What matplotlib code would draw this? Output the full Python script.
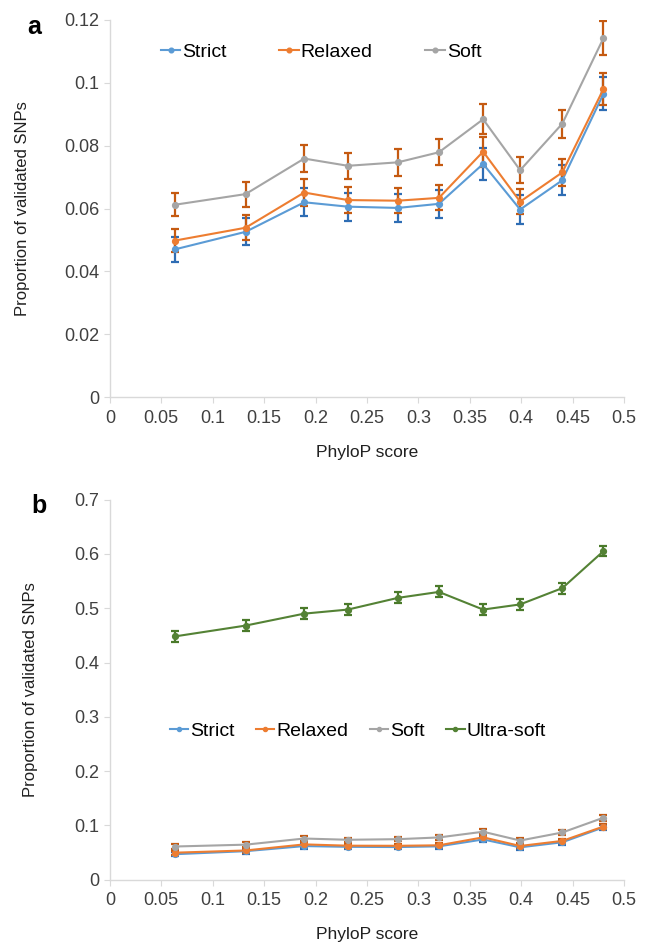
import numpy as np
import matplotlib
matplotlib.use("Agg")
import matplotlib.pyplot as plt
from matplotlib.ticker import FuncFormatter, MultipleLocator

plt.rcParams["font.family"] = ["Liberation Sans", "DejaVu Sans"]

# PhyloP score bins (x) and proportions of validated SNPs
phylop = [0.063, 0.132, 0.189, 0.2315, 0.280, 0.320, 0.363, 0.399, 0.440, 0.480]

strict = [0.0470, 0.0526, 0.0620, 0.0606, 0.0602, 0.0615, 0.0742, 0.0597, 0.0690, 0.0965]
strict_err = [0.0040, 0.0043, 0.0045, 0.0045, 0.0045, 0.0045, 0.0050, 0.0045, 0.0047, 0.0052]

relaxed = [0.0498, 0.0539, 0.0651, 0.0627, 0.0625, 0.0634, 0.0781, 0.0622, 0.0715, 0.0980]
relaxed_err = [0.0036, 0.0040, 0.0042, 0.0040, 0.0040, 0.0040, 0.0048, 0.0040, 0.0042, 0.0050]

soft = [0.0612, 0.0646, 0.0759, 0.0736, 0.0747, 0.0779, 0.0884, 0.0722, 0.0870, 0.1142]
soft_err = [0.0037, 0.0040, 0.0043, 0.0041, 0.0042, 0.0042, 0.0048, 0.0042, 0.0045, 0.0055]

ultra_soft = [0.448, 0.468, 0.490, 0.4975, 0.519, 0.530, 0.4975, 0.507, 0.537, 0.605]
ultra_soft_err = [0.010, 0.010, 0.010, 0.010, 0.010, 0.010, 0.010, 0.010, 0.010, 0.009]

series = [
    ("Strict", strict, strict_err, "#5B9BD5", "#2E6DB4"),
    ("Relaxed", relaxed, relaxed_err, "#ED7D31", "#C55A11"),
    ("Soft", soft, soft_err, "#A5A5A5", "#C55A11"),
]
ultra = ("Ultra-soft", ultra_soft, ultra_soft_err, "#548235", "#4A7A2A")

GRID = "#D9D9D9"
TXT = "#404040"


def fmt(v, _pos):
    return "%g" % round(v, 4)


def style_axes(ax, ymax, ystep, ylab_x):
    ax.set_xlim(0, 0.5)
    ax.set_ylim(0, ymax)
    ax.xaxis.set_major_locator(MultipleLocator(0.05))
    ax.yaxis.set_major_locator(MultipleLocator(ystep))
    ax.xaxis.set_major_formatter(FuncFormatter(fmt))
    ax.yaxis.set_major_formatter(FuncFormatter(fmt))
    for side in ("top", "right"):
        ax.spines[side].set_visible(False)
    for side in ("left", "bottom"):
        ax.spines[side].set_color(GRID)
        ax.spines[side].set_linewidth(1.0)
    ax.tick_params(direction="out", length=4, color=GRID, labelcolor=TXT,
                   labelsize=13)
    ax.tick_params(axis="x", pad=5)
    ax.set_xlabel("PhyloP score", fontsize=12.5, color="#202020", labelpad=13)
    ax.set_ylabel("Proportion of validated SNPs", fontsize=12, color="#202020")
    ax.yaxis.set_label_coords(ylab_x, 0.5)


def draw(ax, name, y, err, color, ecolor, ms=4.2):
    ax.errorbar(phylop, y, yerr=err, fmt="none", ecolor=ecolor, elinewidth=1.6,
                capsize=3, capthick=1.6, zorder=2)
    ax.plot(phylop, y, color=color, lw=1.5, marker="o", ms=ms, label=name,
            zorder=3)


fig = plt.figure(figsize=(6.5, 9.48), dpi=100)
ax_a = fig.add_axes([0.169, 0.581, 0.791, 0.398])
ax_b = fig.add_axes([0.169, 0.072, 0.791, 0.401])

# panel a
for name, y, err, c, ec in series:
    draw(ax_a, name, y, err, c, ec)
style_axes(ax_a, 0.12, 0.02, -0.155)
ax_a.legend(loc="center", bbox_to_anchor=(0.411, 0.915), ncol=3, frameon=False,
            fontsize=14, handlelength=1.0, handletextpad=0.1, columnspacing=2.7,
            markerscale=0.8)
fig.text(0.042, 0.972, "a", fontsize=18, fontweight="bold", va="center")

# panel b
for name, y, err, c, ec in series + [ultra]:
    draw(ax_b, name, y, err, c, ec, ms=4.2)
style_axes(ax_b, 0.7, 0.1, -0.14)
ax_b.legend(loc="center", bbox_to_anchor=(0.482, 0.39), ncol=4, frameon=False,
            fontsize=14, handlelength=0.95, handletextpad=0.1, columnspacing=1.1,
            markerscale=0.7)
fig.text(0.048, 0.466, "b", fontsize=18, fontweight="bold", va="center")

fig.savefig("out.png", dpi=100)
